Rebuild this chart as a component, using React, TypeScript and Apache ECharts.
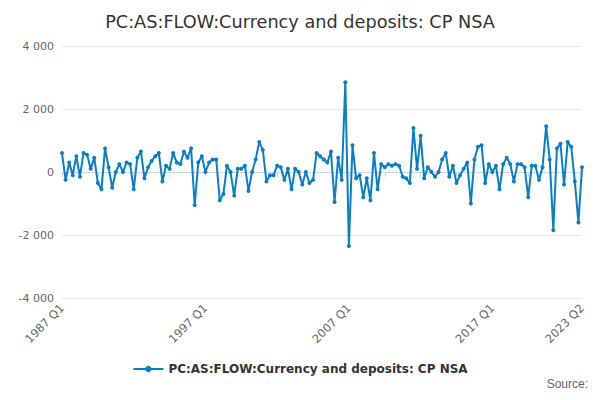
import React, { useEffect, useRef } from "react";
import * as echarts from "echarts";

const years: number[] = [];
for (let y = 1987; y <= 2023; y++) years.push(y);
const quarters = ["Q1", "Q2", "Q3", "Q4"];
const categories: string[] = [];
years.forEach((y) => quarters.forEach((q) => { if (!(y === 2023 && (q === "Q3" || q === "Q4"))) categories.push(`${y} ${q}`); }));

const values1987to1996 = [
  600, -250, 300, -100, 500, -150, 600, 550, 100, 450, -350, -550,
  750, 150, -500, 0, 250, 0, 300, 250, -550, 450, 650, -200,
  150, 350, 500, 600, -300, 200, 100, 600, 300, 250, 650, 450,
  750, -1050, 300, 500,
];
const values1997to2006 = [
  0, 300, 400, 400, -900, -700, 200, 0, -750, 100, 100, 200,
  -600, 0, 400, 950, 700, -300, -100, -100, 200, 150, -250, 100,
  -550, 100, 0, -400, 0, -350, -250, 600, 500, 400, 300, 650,
  -950, 450, -250, 2850,
];
const values2007to2016 = [
  -2350, 850, -200, -100, -800, -200, -900, 600, -550, 250, 150, 250,
  200, 250, 200, -150, -200, -350, 1400, 100, 1150, -200, 150, 0,
  -150, 0, 400, 600, -150, 200, -350, -100, 100, 300, -1000, 400,
  800, 850, -350, 250,
];
const values2017to2023 = [
  0, 200, -550, 250, 450, 250, -300, 250, 250, 150, -800, 200,
  200, -250, 150, 1450, 400, -1850, 750, 900, -400, 950, 800, -300,
  -1600, 150,
];
const seriesValues = [...values1987to1996, ...values1997to2006, ...values2007to2016, ...values2017to2023];
const shownLabels = ["1987 Q1", "1997 Q1", "2007 Q1", "2017 Q1", "2023 Q2"];
const seriesName = "PC:AS:FLOW:Currency and deposits: CP NSA";

export default function App() {
  const ref = useRef<HTMLDivElement>(null);
  useEffect(() => {
    const chart = echarts.init(ref.current!, null, { renderer: "svg" });
    chart.setOption({
      animation: false,
      textStyle: { fontFamily: "DejaVu Sans" },
      title: { text: "PC:AS:FLOW:Currency and deposits: CP NSA", left: "center", top: 0,
        textStyle: { fontSize: 17.7, fontWeight: "normal", color: "#333" } },
      grid: { left: 54, right: 10, top: 38, bottom: 94 },
      xAxis: {
        type: "category", data: categories, boundaryGap: false,
        axisLine: { lineStyle: { color: "#ccd6eb" } },
        axisTick: { alignWithLabel: true, interval: (i: number) => i % 10 === 0 || i === categories.length - 1, lineStyle: { color: "#ccd6eb" } },
        axisLabel: { interval: (i: number, v: string) => shownLabels.includes(v), rotate: 45, color: "#666", fontSize: 11.5, showMaxLabel: true },
      },
      yAxis: {
        type: "value", min: -4000, max: 4000, interval: 2000,
        axisLabel: { color: "#666", fontSize: 11, formatter: (v: number) => {
          const s = Math.abs(v) >= 1000 ? `${v < 0 ? "-" : ""}${Math.floor(Math.abs(v) / 1000)} ${String(Math.abs(v) % 1000).padStart(3, "0")}` : String(v);
          return s; } },
        splitLine: { lineStyle: { color: "#e6e6e6" } },
      },
      legend: { bottom: 12, left: "center", itemWidth: 30, itemHeight: 8, textStyle: { fontWeight: "bold", color: "#333", fontSize: 12 } },
      graphic: [{ type: "text", right: 4, bottom: 2, style: { text: "Source:", fill: "#666", fontSize: 12 } }],
      series: [{
        name: seriesName, type: "line", data: seriesValues, symbol: "circle", symbolSize: 4, showAllSymbol: true,
        lineStyle: { color: "#0a7dc8", width: 2 }, itemStyle: { color: "#0a7dc8" },
      }],
    });
    return () => chart.dispose();
  }, []);
  return <div ref={ref} style={{ width: 584, height: 384 }} />;
}
